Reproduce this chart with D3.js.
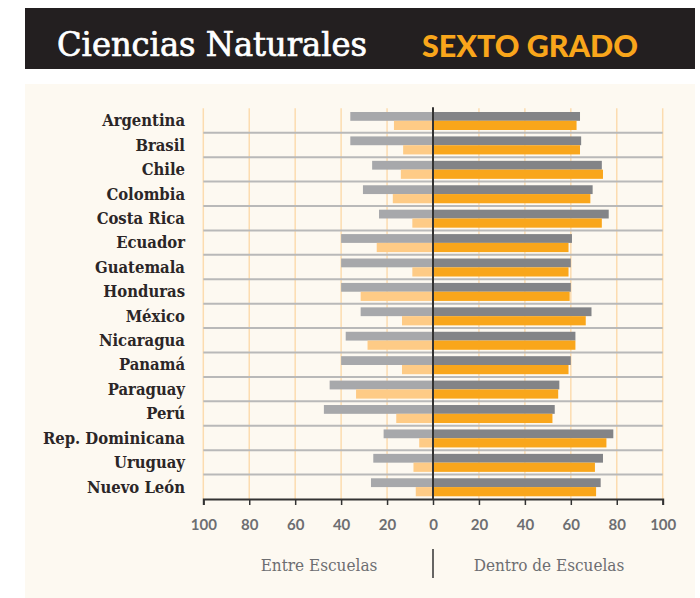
<!DOCTYPE html>
<html>
<head>
<meta charset="utf-8">
<script src="https://cdn.jsdelivr.net/npm/d3@7"></script>
<style>
  html, body { margin: 0; padding: 0; background: #ffffff; }
  svg { display: block; }
</style>
</head>
<body>
<svg id="chart" width="700" height="598"></svg>
<script>
// ---------------- DATA ----------------
const countries = ["Argentina", "Brasil", "Chile", "Colombia", "Costa Rica", "Ecuador",
  "Guatemala", "Honduras", "México", "Nicaragua", "Panamá", "Paraguay", "Perú",
  "Rep. Dominicana", "Uruguay", "Nuevo León"];
// Entre Escuelas (left side)
const entreGray   = [36, 36, 26.5, 30.5, 23.5, 40, 40, 40, 31.5, 38, 40, 45, 47.5, 21.5, 26, 27];
const entreOrange = [17, 13, 14, 17.5, 9, 24.5, 9, 31.5, 13.5, 28.5, 13.5, 33.5, 16, 6, 8.5, 7.5];
// Dentro de Escuelas (right side)
const dentroGray   = [64, 64.5, 73.5, 69.5, 76.5, 60.5, 60, 60, 69, 62, 60, 55, 53, 78.5, 74, 73];
const dentroOrange = [62.5, 64, 74, 68.5, 73.5, 59, 59, 59.5, 66.5, 62, 59, 54.5, 52, 75.5, 70.5, 71];
const tickValues = [-100, -80, -60, -40, -20, 0, 20, 40, 60, 80, 100];
const title = "Ciencias Naturales";
const subtitle = "SEXTO GRADO";
const legendLeft = "Entre Escuelas";
const legendRight = "Dentro de Escuelas";

// ---------------- LAYOUT ----------------
const svg = d3.select("#chart");
const plotTop = 108.3, plotBottom = 499;
const x = d3.scaleLinear().domain([-100, 100]).range([203.3, 662.7]);
const y = d3.scaleBand().domain(countries).range([plotTop, plotBottom]).padding(0);

const C = {
  header: "#231f20",
  panel: "#fdf9f1",
  grid: "#fcdcb0",
  sep: "#b9b9b9",
  leftGray: "#a7a8ab",
  leftOrange: "#fecb86",
  rightGray: "#838487",
  rightOrange: "#f9a61b",
  text: "#2b2627",
  axisText: "#6d6e71",
  axis: "#333333"
};
const serifC = "'DejaVu Serif Condensed', 'DejaVu Serif', serif";

// header band
svg.append("rect").attr("x", 25).attr("y", 8).attr("width", 670).attr("height", 61).attr("fill", C.header);
svg.append("text").attr("x", 57).attr("y", 56)
  .attr("font-family", serifC).attr("font-stretch", "condensed").attr("font-size", 34)
  .attr("textLength", 310).attr("lengthAdjust", "spacingAndGlyphs")
  .attr("fill", "#ffffff").attr("stroke", "#ffffff").attr("stroke-width", 0.7)
  .text(title);
svg.append("text").attr("x", 422).attr("y", 56.5)
  .attr("font-family", "Lato, sans-serif").attr("font-weight", 900).attr("font-size", 30)
  .attr("textLength", 216).attr("lengthAdjust", "spacingAndGlyphs")
  .attr("fill", C.rightOrange).text(subtitle);

// panel
svg.append("rect").attr("x", 25).attr("y", 84).attr("width", 670).attr("height", 514).attr("fill", C.panel);

// vertical gridlines
svg.append("g").selectAll("line").data(tickValues.filter(d => d !== 0)).join("line")
  .attr("x1", d => x(d)).attr("x2", d => x(d))
  .attr("y1", plotTop).attr("y2", plotBottom)
  .attr("stroke", C.grid).attr("stroke-width", 1.5);

// row separators
svg.append("g").selectAll("line").data(countries.slice(1)).join("line")
  .attr("x1", x(-100)).attr("x2", x(100))
  .attr("y1", d => y(d)).attr("y2", d => y(d))
  .attr("stroke", C.sep).attr("stroke-width", 2);

const barH1 = 8.8, barH2 = 9.2, off1 = 3.7, off2 = 12.5;
const g = svg.append("g");
g.selectAll(".lg").data(countries).join("rect").attr("class", "lg")
  .attr("x", (d, i) => x(-entreGray[i])).attr("width", (d, i) => x(0) - x(-entreGray[i]))
  .attr("y", d => y(d) + off1).attr("height", barH1).attr("fill", C.leftGray);
g.selectAll(".lo").data(countries).join("rect").attr("class", "lo")
  .attr("x", (d, i) => x(-entreOrange[i])).attr("width", (d, i) => x(0) - x(-entreOrange[i]))
  .attr("y", d => y(d) + off2).attr("height", barH2).attr("fill", C.leftOrange);
g.selectAll(".rg").data(countries).join("rect").attr("class", "rg")
  .attr("x", x(0)).attr("width", (d, i) => x(dentroGray[i]) - x(0))
  .attr("y", d => y(d) + off1).attr("height", barH1).attr("fill", C.rightGray);
g.selectAll(".ro").data(countries).join("rect").attr("class", "ro")
  .attr("x", x(0)).attr("width", (d, i) => x(dentroOrange[i]) - x(0))
  .attr("y", d => y(d) + off2).attr("height", barH2).attr("fill", C.rightOrange);

// center line
svg.append("line").attr("x1", x(0)).attr("x2", x(0)).attr("y1", plotTop - 1).attr("y2", plotBottom)
  .attr("stroke", C.axis).attr("stroke-width", 2);

// country labels
svg.append("g").selectAll("text").data(countries).join("text")
  .attr("x", 185).attr("y", d => y(d) + y.bandwidth() / 2 + 5.8)
  .attr("text-anchor", "end")
  .attr("font-family", serifC).attr("font-stretch", "condensed").attr("font-weight", "bold")
  .attr("font-size", 16.5).attr("fill", C.text)
  .text(d => d);

// bottom axis
const axis = d3.axisBottom(x).tickValues(tickValues).tickSize(6).tickFormat(d => Math.abs(d));
const ax = svg.append("g").attr("transform", `translate(0,${plotBottom})`).call(axis);
ax.select(".domain").attr("stroke", C.axis).attr("stroke-width", 2);
ax.selectAll(".tick line").attr("stroke", C.axis).attr("stroke-width", 1.5);
ax.selectAll(".tick text").attr("y", 20)
  .attr("font-family", "Lato, sans-serif").attr("font-weight", "bold").attr("font-size", 15)
  .attr("fill", C.axisText);

// legend
svg.append("text").attr("x", 319).attr("y", 571).attr("text-anchor", "middle")
  .attr("font-family", serifC).attr("font-stretch", "condensed").attr("font-size", 17).attr("fill", C.axisText)
  .text(legendLeft);
svg.append("text").attr("x", 549).attr("y", 571).attr("text-anchor", "middle")
  .attr("font-family", serifC).attr("font-stretch", "condensed").attr("font-size", 17).attr("fill", C.axisText)
  .text(legendRight);
svg.append("line").attr("x1", x(0)).attr("x2", x(0)).attr("y1", 549).attr("y2", 578)
  .attr("stroke", C.axis).attr("stroke-width", 1.5);
</script>
</body>
</html>
